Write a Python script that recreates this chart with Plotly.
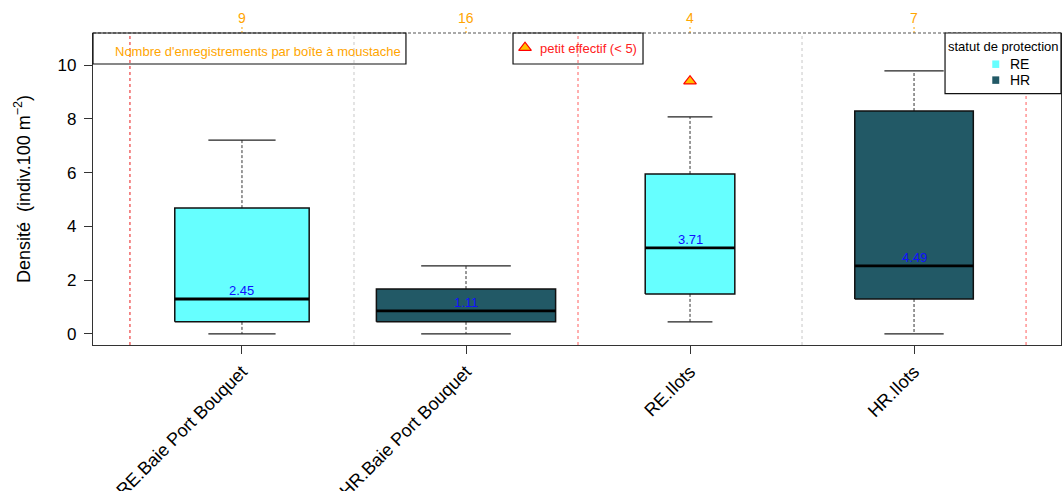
import numpy as np
import plotly.graph_objects as go

# Density per site x protection status (boxplot statistics)
categories = ["RE.Baie Port Bouquet", "HR.Baie Port Bouquet", "RE.Ilots", "HR.Ilots"]
statut = ["RE", "HR", "RE", "HR"]
n_records = [9, 16, 4, 7]
means = [2.45, 1.11, 3.71, 4.49]
whisker_low = [0.0, 0.0, 0.45, 0.0]
q1 = [0.45, 0.45, 1.49, 1.30]
medians = [1.30, 0.86, 3.20, 2.53]
q3 = [4.68, 1.67, 5.95, 8.29]
whisker_high = [7.21, 2.53, 8.07, 9.78]
small_n_flag = [None, None, 9.40, None]
y_ticks = [0, 2, 4, 6, 8, 10]

status_colors = {"RE": "#66FFFF", "HR": "#225966"}
FONT = "Liberation Sans, Arial, sans-serif"
FLAG_MARKER = dict(symbol="triangle-up", size=11, color="#FFC000",
                   line=dict(color="#FF0000", width=1.2))

xpos = np.arange(1, len(categories) + 1)
# varwidth: box width proportional to sqrt(n)
widths = 0.8 * np.sqrt(n_records) / np.sqrt(max(n_records))

fig = go.Figure()

for i, x in enumerate(xpos):
    w = widths[i]
    half = w / 2
    cap = w / 4
    # whiskers (dashed)
    fig.add_trace(go.Scatter(
        x=[x, x, None, x, x],
        y=[q3[i], whisker_high[i], None, q1[i], whisker_low[i]],
        mode="lines", line=dict(color="#333333", width=1, dash="3px,2px"),
        showlegend=False, hoverinfo="skip"))
    # whisker caps
    fig.add_trace(go.Scatter(
        x=[x - cap, x + cap, None, x - cap, x + cap],
        y=[whisker_high[i], whisker_high[i], None, whisker_low[i], whisker_low[i]],
        mode="lines", line=dict(color="#222222", width=1.2),
        showlegend=False, hoverinfo="skip"))
    # box body
    fig.add_trace(go.Scatter(
        x=[x - half, x + half, x + half, x - half, x - half],
        y=[q1[i], q1[i], q3[i], q3[i], q1[i]],
        mode="lines", fill="toself", fillcolor=status_colors[statut[i]],
        line=dict(color="#111111", width=1.5),
        showlegend=False, hoverinfo="skip"))
    # median
    fig.add_trace(go.Scatter(
        x=[x - half, x + half], y=[medians[i], medians[i]],
        mode="lines", line=dict(color="#000000", width=2.8),
        showlegend=False, hoverinfo="skip"))
    # mean label
    fig.add_annotation(x=x, y=medians[i], xref="x", yref="y",
                       text=f"{means[i]:.2f}", showarrow=False,
                       xanchor="center", yanchor="bottom", yshift=-1,
                       font=dict(family=FONT, size=13, color="#1010FF"))
    # number of records (top axis)
    fig.add_annotation(x=x, y=1, xref="x", yref="paper",
                       text=str(n_records[i]), showarrow=False,
                       xanchor="center", yanchor="middle", yshift=15,
                       font=dict(family=FONT, size=14, color="#FFA500"))
    fig.add_shape(type="line", xref="x", yref="paper",
                  x0=x, x1=x, y0=1, y1=1.026,
                  line=dict(color="#FFA500", width=1, dash="2px,2px"))

# small sample size flag
flag_x = [xpos[i] for i, v in enumerate(small_n_flag) if v is not None]
flag_y = [v for v in small_n_flag if v is not None]
fig.add_trace(go.Scatter(
    x=flag_x, y=flag_y, mode="markers", marker=FLAG_MARKER,
    showlegend=False, hoverinfo="skip"))

# flag symbol used in the note box (on a hidden 0-1 overlay frame)
fig.add_trace(go.Scatter(
    x=[0.4463], y=[0.953], xaxis="x2", yaxis="y2", mode="markers",
    marker=FLAG_MARKER, cliponaxis=False, showlegend=False, hoverinfo="skip"))

# separators between groups
for xv, col in [(0.5, "rgba(230,0,0,0.9)"),
                (1.5, "#C8C8C8"),
                (2.5, "rgba(255,40,40,0.75)"),
                (3.5, "#C8C8C8"),
                (4.5, "rgba(255,40,40,0.75)")]:
    fig.add_shape(type="line", xref="x", yref="paper", x0=xv, x1=xv,
                  y0=0, y1=1, layer="below", line=dict(color=col, width=1, dash="dot"))

# dashed top border
fig.add_shape(type="line", xref="paper", yref="paper", x0=0, x1=1, y0=1, y1=1,
              line=dict(color="#555555", width=1.2, dash="3px,2px"))

# note boxes
fig.add_shape(type="rect", xref="paper", yref="paper",
              x0=0, x1=0.3233, y0=0.9006, y1=1,
              line=dict(color="#111111", width=1.2))
fig.add_annotation(x=0.1705, y=0.942, xref="paper", yref="paper",
                   xanchor="center", yanchor="middle",
                   text="Nombre d'enregistrements par boîte à moustache",
                   showarrow=False, font=dict(family=FONT, size=13, color="#FFA500"))

fig.add_shape(type="rect", xref="paper", yref="paper",
              x0=0.4339, x1=0.5682, y0=0.9006, y1=1,
              line=dict(color="#111111", width=1.2))
fig.add_annotation(x=0.4597, y=0.950, xref="paper", yref="paper",
                   xanchor="left", yanchor="middle", text="petit effectif (< 5)",
                   showarrow=False, font=dict(family=FONT, size=13, color="#FF2020"))

# legend
fig.add_shape(type="rect", xref="paper", yref="paper",
              x0=0.8802, x1=1.0, y0=0.806, y1=1,
              line=dict(color="#111111", width=1.2), fillcolor="white")
fig.add_annotation(x=0.9401, y=0.958, xref="paper", yref="paper",
                   xanchor="center", yanchor="middle",
                   text="statut de protection", showarrow=False,
                   font=dict(family=FONT, size=13, color="#000000"))
for lab, yy in [("RE", 0.900), ("HR", 0.849)]:
    fig.add_shape(type="rect", xref="paper", yref="paper",
                  x0=0.9290, x1=0.9362, y0=yy - 0.012, y1=yy + 0.012,
                  line=dict(width=0), fillcolor=status_colors[lab])
    fig.add_annotation(x=0.9456, y=yy, xref="paper", yref="paper",
                       xanchor="left", yanchor="middle", text=lab, showarrow=False,
                       font=dict(family=FONT, size=14, color="#000000"))

# y-axis title
fig.add_annotation(x=0, y=0.5, xref="paper", yref="paper", xshift=-71,
                   xanchor="center", yanchor="middle", textangle=-90,
                   text="Densité  (indiv.100 m<sup>−2</sup>)", showarrow=False,
                   font=dict(family=FONT, size=18, color="#000000"))

fig.update_layout(
    width=1062, height=491,
    margin=dict(l=93, r=1, t=33, b=146),
    paper_bgcolor="white", plot_bgcolor="white",
    font=dict(family=FONT, color="#000000"),
    showlegend=False,
    xaxis=dict(range=[0.335, 4.656], tickvals=list(xpos), ticktext=categories,
               tickangle=-45, ticks="outside", ticklen=8, tickcolor="#333333",
               showline=True, linecolor="#333333", linewidth=1.2,
               showgrid=False, zeroline=False, automargin=False,
               tickfont=dict(family=FONT, size=18, color="#000000")),
    yaxis=dict(range=[-0.41, 11.19], tickvals=y_ticks, ticks="outside", ticklen=8,
               tickcolor="#333333", showline=True, mirror=True, ticklabelstandoff=4,
               linecolor="#333333", linewidth=1.2, showgrid=False, zeroline=False,
               automargin=False,
               tickfont=dict(family=FONT, size=17, color="#000000")),
    xaxis2=dict(overlaying="x", range=[0, 1], visible=False),
    yaxis2=dict(overlaying="y", range=[0, 1], visible=False),
)

fig.write_html("out.html")
